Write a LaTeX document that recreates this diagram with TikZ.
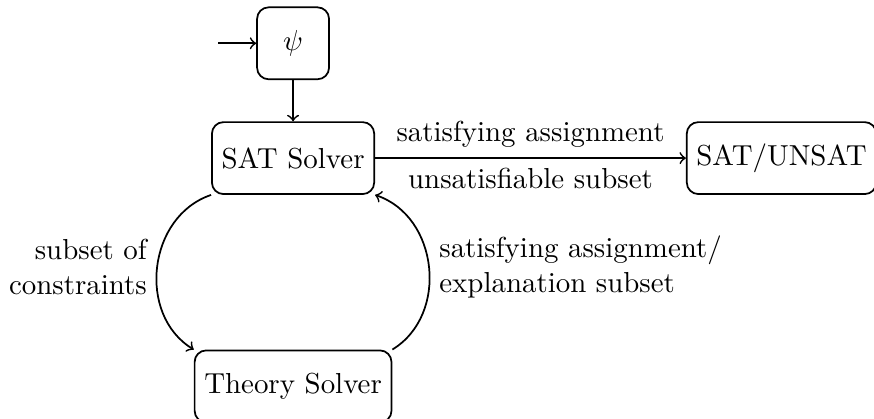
\documentclass[tikz,border=0pt]{standalone}
\usepackage{amsmath,amssymb}
\usepackage{tikz}
\usetikzlibrary{shapes,arrows,positioning,calc}

\tikzset{
    solverbox/.style={draw, rounded corners, semithick, minimum size=0.875cm},
    flow/.style={->, semithick}
}

\begin{document}
\begin{tikzpicture}
            \useasboundingbox (-101.4pt,-90pt) rectangle (201pt,54.7pt);
            \node[solverbox] (sat) at (0,0) {SAT Solver};
            \node[solverbox, above=0.5cm of sat] (psi) {$\psi$};
            \node[solverbox, below=1.88cm of sat] (theory) {Theory Solver};
            \node[solverbox, right=3.78cm of sat] (result) {SAT/UNSAT};
            \coordinate[left=0.46cm of psi] (input);

            \draw[flow] (input) -- (psi);
            \draw[flow] (psi) -- (sat);
            \draw[flow] (sat) -- node[above] {satisfying assignment}
                node[below] {unsatisfiable subset} (result);
            \draw[flow] (sat.south west) to[bend right=65, looseness=1.1]
                node[left, align=right] {subset of\\constraints} (theory.north west);
            \draw[flow] (theory.north east) to[bend right=65, looseness=1.1]
                node[right, align=left] {satisfying assignment/\\explanation subset} (sat.south east);
        \end{tikzpicture}
\end{document}
